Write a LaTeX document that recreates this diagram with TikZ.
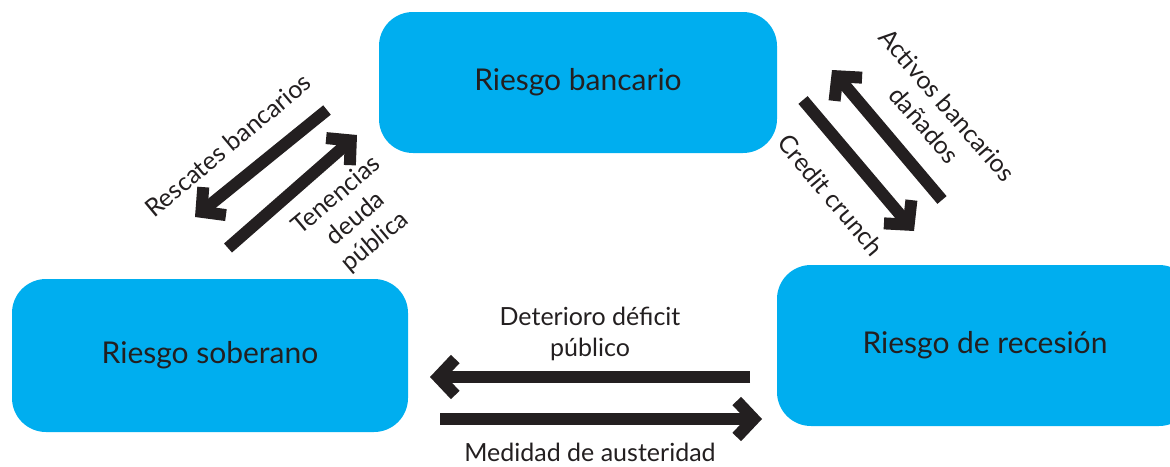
\documentclass[tikz,border=0pt]{standalone}
\usepackage{fontspec}
\setmainfont{Lato}
\usetikzlibrary{arrows.meta}
\definecolor{boxblue}{HTML}{00AEEF}
\definecolor{ink}{HTML}{231F20}
\begin{document}
\begin{tikzpicture}[x=1pt,y=-1pt,
  riskbox/.style={fill=boxblue, rounded corners=34pt, text=ink, font=\fontsize{30}{35}\selectfont, inner sep=0pt},
  lbl/.style={text=ink, font=\fontsize{25}{30}\selectfont, align=center, inner sep=0pt},
  bigarrow/.style={draw=ink, line width=12pt, -{Straight Barb[length=17pt,width=36pt,sharp]}}
]
\useasboundingbox (0,0) rectangle (1170,466);
\node[riskbox, minimum width=398pt, minimum height=141pt] (banc) at (578,82.5) {Riesgo bancario};
\node[riskbox, minimum width=396pt, minimum height=153pt] (sob) at (210,355.5) {Riesgo soberano};
\node[riskbox, minimum width=416pt, minimum height=161pt] (rec) at (985,345.5) {Riesgo de recesión};

\coordinate (a1s) at (327,110); \coordinate (a1e) at (195,217);
\coordinate (a2s) at (228,248); \coordinate (a2e) at (357,135);
\coordinate (a3s) at (803,100); \coordinate (a3e) at (914,231);
\coordinate (a4s) at (942,200); \coordinate (a4e) at (832,70);
\coordinate (a5s) at (750,377); \coordinate (a5e) at (430,377);
\coordinate (a6s) at (440,419); \coordinate (a6e) at (762,419);

\draw[bigarrow] (a1s) -- (a1e);
\draw[bigarrow] (a2s) -- (a2e);
\draw[bigarrow] (a3s) -- (a3e);
\draw[bigarrow] (a4s) -- (a4e);
\draw[bigarrow] (a5s) -- (a5e);
\draw[bigarrow] (a6s) -- (a6e);

\node[lbl, rotate=40] (l1) at (228,145) {Rescates bancarios};
\node[lbl, rotate=40] (l2) at (356,219) {Tenencias\\deuda\\pública};
\node[lbl, rotate=-49] (l3) at (936,115) {Activos bancarios\\dañados};
\node[lbl, rotate=-50] (l4) at (831,195) {Credit crunch};
\node[lbl, font=\fontsize{25}{31}\selectfont] (l5) at (590,334) {Deterioro déficit\\público};
\node[lbl] (l6) at (590,452) {Medidad de austeridad};
\end{tikzpicture}
\end{document}
